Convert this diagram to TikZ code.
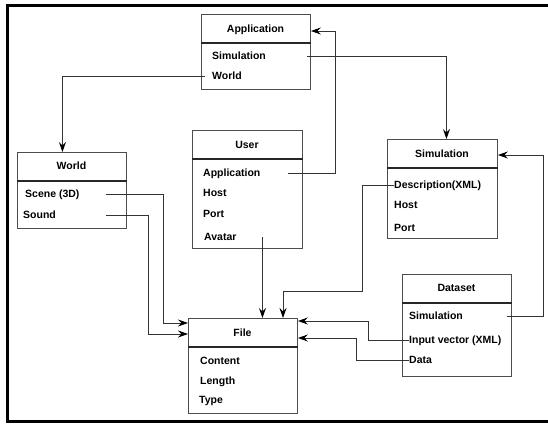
\documentclass[tikz,border=0pt]{standalone}
\usepackage{fontspec}
\setmainfont{Liberation Sans}
\usetikzlibrary{arrows.meta}
\begin{document}
\begin{tikzpicture}[x=1pt,y=-1pt,
  box/.style={draw=black!70, line width=0.9pt, inner sep=0, anchor=north west},
  lbl/.style={font=\bfseries\fontsize{10.5}{12}\selectfont, inner sep=0, anchor=west, text height=7.6pt, text depth=0pt},
  ttl/.style={font=\bfseries\fontsize{10.5}{12}\selectfont, inner sep=0, text height=7.6pt, text depth=0pt},
  divline/.style={draw=black!85, line width=1.3pt},
  conn/.style={draw=black!80, line width=0.9pt, -{Stealth[length=10pt,width=7pt,inset=3.5pt,color=black]}},
  frameline/.style={line width=3pt}]
\useasboundingbox (0,0) rectangle (548,423);
\draw[frameline] (560,5.5) -- (7.5,5.5) -- (7.5,421.5) -- (560,421.5);

% Application
\node[box, minimum width=109pt, minimum height=75pt] (app) at (201,14) {};
\draw[divline] (app.west |- 0,43) -- (app.east |- 0,43);
\node[ttl] (appTitle) at (255.5,29) {Application};
\node[lbl] (appSim) at (212,56) {Simulation};
\node[lbl] (appWorld) at (212,76) {World};

% User
\node[box, minimum width=110pt, minimum height=118pt] (user) at (192,130) {};
\draw[divline] (user.west |- 0,159) -- (user.east |- 0,159);
\node[ttl] (userTitle) at (247,145) {User};
\node[lbl] (userApp) at (203,173) {Application};
\node[lbl] (userHost) at (203,193) {Host};
\node[lbl] (userPort) at (203,214) {Port};
\node[lbl] (userAvatar) at (204,237) {Avatar};

% World
\node[box, minimum width=109pt, minimum height=76pt] (world) at (17,152) {};
\draw[divline] (world.west |- 0,181) -- (world.east |- 0,181);
\node[ttl] (worldTitle) at (71.5,166) {World};
\node[lbl] (worldScene) at (25,194) {Scene (3D)};
\node[lbl] (worldSound) at (23,215) {Sound};

% Simulation
\node[box, minimum width=110pt, minimum height=99pt] (sim) at (387,139) {};
\draw[divline] (sim.west |- 0,168) -- (sim.east |- 0,168);
\node[ttl] (simTitle) at (442,154) {Simulation};
\node[lbl] (simDesc) at (394,185) {Description(XML)};
\node[lbl] (simHost) at (394,205) {Host};
\node[lbl] (simPort) at (394,228) {Port};

% File
\node[box, minimum width=109pt, minimum height=95pt] (file) at (188,318) {};
\draw[divline] (file.west |- 0,347) -- (file.east |- 0,347);
\node[ttl] (fileTitle) at (242.5,333) {File};
\node[lbl] (fileContent) at (200,361) {Content};
\node[lbl] (fileLength) at (200,381) {Length};
\node[lbl] (fileType) at (199,400) {Type};

% Dataset
\node[box, minimum width=109pt, minimum height=102pt] (ds) at (402,274) {};
\draw[divline] (ds.west |- 0,303) -- (ds.east |- 0,303);
\node[ttl] (dsTitle) at (456.5,288) {Dataset};
\node[lbl] (dsSim) at (409,316) {Simulation};
\node[lbl] (dsInput) at (409,340) {Input vector (XML)};
\node[lbl] (dsData) at (409,360) {Data};

% connectors
\draw[conn] ([xshift=-7pt]appWorld.west) -| ([xshift=-9.5pt]world.north);
\draw[conn] ([xshift=-4pt]app.east |- appSim) -| ([xshift=4pt]sim.north);
\draw[conn] ([xshift=-15pt]user.east |- userApp) -| ([xshift=25pt,yshift=-2pt]app.east |- appTitle) -- ([yshift=-2pt]app.east |- appTitle);
\draw[conn] ([xshift=-21pt]world.east |- worldScene) -| ([xshift=-25pt,yshift=-5pt]file.north west) -- ([yshift=-5pt]file.north west);
\draw[conn] ([xshift=-21pt]world.east |- worldSound) -| ([xshift=-40pt,yshift=-16pt]file.north west) -- ([yshift=-16pt]file.north west);
\draw[conn] ([xshift=19.5pt]userAvatar -| file.north) -- ([xshift=19.5pt]file.north);
\draw[conn] (simDesc.west) -- ++(-32,0) |- ([xshift=95pt,yshift=27pt]file.north west) -- ([xshift=95pt]file.north west);
\draw[conn] ([xshift=-5pt]ds.east |- dsSim) -| ([xshift=46pt,yshift=-1pt]sim.east |- simTitle) -- ([yshift=-1pt]sim.east |- simTitle);
\draw[conn] (dsInput.west) -| ([xshift=71pt,yshift=-3pt]file.north east) -- ([yshift=-3pt]file.north east);
\draw[conn] (dsData.west) -| ([xshift=59pt,yshift=-20pt]file.north east) -- ([yshift=-20pt]file.north east);
\end{tikzpicture}
\end{document}
